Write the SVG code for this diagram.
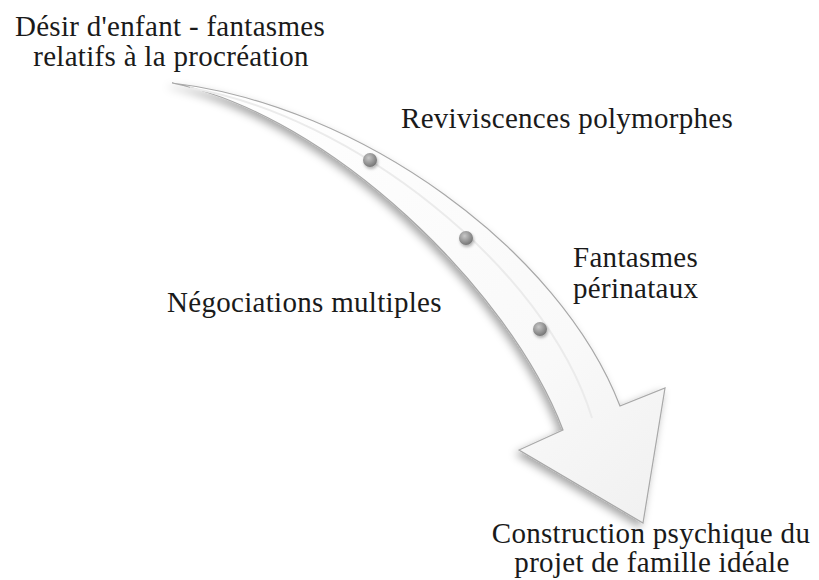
<svg xmlns="http://www.w3.org/2000/svg" width="819" height="580" viewBox="0 0 819 580">
<defs>
<filter id="sh" x="-20%" y="-20%" width="140%" height="140%">
<feDropShadow dx="-3" dy="4" stdDeviation="4" flood-color="#000" flood-opacity="0.35"/>
</filter>
<filter id="dsh" x="-50%" y="-50%" width="200%" height="200%">
<feDropShadow dx="1" dy="2" stdDeviation="1.5" flood-color="#000" flood-opacity="0.3"/>
</filter>
<linearGradient id="ag" x1="0" y1="0" x2="1" y2="1">
<stop offset="0" stop-color="#ffffff"/>
<stop offset="0.7" stop-color="#f9f9f9"/>
<stop offset="1" stop-color="#f0f0f0"/>
</linearGradient>
<radialGradient id="dg" cx="0.4" cy="0.35" r="0.7">
<stop offset="0" stop-color="#c8c8c8"/>
<stop offset="1" stop-color="#707070"/>
</radialGradient>
</defs>
<style>
text{font-family:"Liberation Serif","Times New Roman",serif;font-size:29px;fill:#1a1a1a;letter-spacing:0.3px}
.c{text-anchor:middle}
.dot{fill:url(#dg);filter:url(#dsh)}
</style>
<g id="connectors">
<g id="arrow">
<path d="M172,83 C360,105 560,250 620,406 L665,388 L643,523 L519,450 L563,430 C510,290 330,115 172,83 Z" fill="url(#ag)" stroke="#a8a8a8" stroke-width="1.2" stroke-linejoin="miter" filter="url(#sh)"/>
<path d="M190,88 C350,115 545,265 592,418" fill="none" stroke="#ebebeb" stroke-width="2"/>
</g>
<circle class="dot" cx="370" cy="160" r="7"/>
<circle class="dot" cx="466" cy="238" r="7"/>
<circle class="dot" cx="540" cy="329" r="7"/>
</g>
<g id="n-desir">
<text class="c" x="170" y="36">Désir d'enfant - fantasmes</text>
<text class="c" x="171" y="66">relatifs à la procréation</text>
</g>
<g id="n-reviviscences">
<text x="401" y="128">Reviviscences polymorphes</text>
</g>
<g id="n-fantasmes">
<text x="573" y="267">Fantasmes</text>
<text x="573" y="298">périnataux</text>
</g>
<g id="n-negociations">
<text x="167" y="312">Négociations multiples</text>
</g>
<g id="n-construction">
<text class="c" x="651" y="543">Construction psychique du</text>
<text class="c" x="652" y="572">projet de famille idéale</text>
</g>
</svg>
